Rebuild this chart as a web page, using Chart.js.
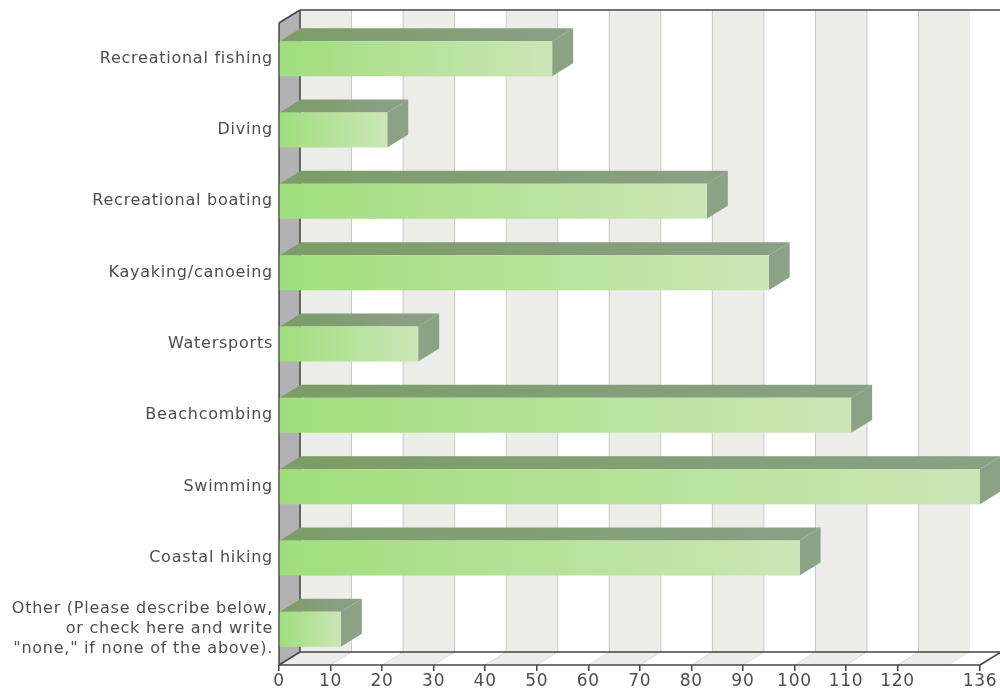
<!DOCTYPE html>
<html>
<head>
<meta charset="utf-8">
<style>
  html, body { margin: 0; background: #fff; }
  canvas { display: block; }
</style>
<script src="https://cdn.jsdelivr.net/npm/chart.js@4"></script>
</head>
<body>
<canvas id="barChart" width="1000" height="691"></canvas>
<script>
const categories = [
  'Recreational fishing',
  'Diving',
  'Recreational boating',
  'Kayaking/canoeing',
  'Watersports',
  'Beachcombing',
  'Swimming',
  'Coastal hiking',
  ['Other (Please describe below,', 'or check here and write', '"none," if none of the above).']
];
const responses = [53, 21, 83, 95, 27, 111, 136, 101, 12];
const tickValues = [0, 10, 20, 30, 40, 50, 60, 70, 80, 90, 100, 110, 120, 136];
const stripeStarts = [0, 20, 40, 60, 80, 100, 120];
const stripeWidth = 10;
const gridValues = [0, 10, 20, 30, 40, 50, 60, 70, 80, 90, 100, 110, 120];

const depthX = 21;
const depthY = 13;
const textColor = '#4d4d4d';
const lineColor = '#444';

function poly(ctx, pts, fill) {
  ctx.beginPath();
  pts.forEach((p, i) => i ? ctx.lineTo(p[0], p[1]) : ctx.moveTo(p[0], p[1]));
  ctx.closePath();
  ctx.fillStyle = fill;
  ctx.fill();
}

function segment(ctx, x1, y1, x2, y2, color, width) {
  ctx.beginPath();
  ctx.moveTo(x1, y1);
  ctx.lineTo(x2, y2);
  ctx.strokeStyle = color;
  ctx.lineWidth = width;
  ctx.stroke();
}

// back wall, side wall, floor and the top/side faces of the bars
const box3d = {
  id: 'box3d',
  beforeDraw(chart) {
    chart.ctx.letterSpacing = '0.75px';
  },
  beforeDatasetsDraw(chart) {
    const ctx = chart.ctx;
    const area = chart.chartArea;
    const x = chart.scales.x;
    const top = area.top, bottom = area.bottom, left = area.left, right = area.right;
    ctx.save();

    stripeStarts.forEach(v => {
      const a = x.getPixelForValue(v);
      const b = x.getPixelForValue(v + stripeWidth);
      poly(ctx, [[a + depthX, top - depthY], [b + depthX, top - depthY], [b + depthX, bottom - depthY], [a + depthX, bottom - depthY]], '#ecece8');
      poly(ctx, [[a, bottom], [b, bottom], [b + depthX, bottom - depthY], [a + depthX, bottom - depthY]], '#ecece8');
    });
    gridValues.forEach(v => {
      const a = x.getPixelForValue(v);
      segment(ctx, a + depthX, top - depthY, a + depthX, bottom - depthY, '#c8c8c8', 1);
      segment(ctx, a, bottom, a + depthX, bottom - depthY, '#dcdcdc', 1);
    });

    poly(ctx, [[left, top], [left + depthX, top - depthY], [left + depthX, bottom - depthY], [left, bottom]], '#b2b2b4');
    segment(ctx, left + depthX, top - depthY, right + depthX, top - depthY, lineColor, 1.5);
    segment(ctx, left + depthX, top - depthY, left + depthX, bottom - depthY, lineColor, 1.5);
    segment(ctx, left, top, left + depthX, top - depthY, lineColor, 1.5);
    segment(ctx, left, top, left, bottom, lineColor, 1.5);
    segment(ctx, left + depthX, bottom - depthY, right + depthX, bottom - depthY, lineColor, 1.5);
    segment(ctx, left, bottom, left + depthX, bottom - depthY, lineColor, 1.5);
    segment(ctx, right, bottom, right + depthX, bottom - depthY, lineColor, 1.5);
    segment(ctx, left, bottom, right, bottom, lineColor, 1.5);

    chart.getDatasetMeta(0).data.forEach(bar => {
      const x0 = bar.base, x1 = bar.x;
      const y0 = bar.y - bar.height / 2, y1 = bar.y + bar.height / 2;
      const g = ctx.createLinearGradient(x0, 0, x1, 0);
      g.addColorStop(0, '#7b9d66');
      g.addColorStop(1, '#8aa084');
      poly(ctx, [[x0, y0], [x1, y0], [x1 + depthX, y0 - depthY], [x0 + depthX, y0 - depthY]], g);
      poly(ctx, [[x1, y0], [x1 + depthX, y0 - depthY], [x1 + depthX, y1 - depthY], [x1, y1]], '#8ba285');
    });
    ctx.restore();
  }
};

new Chart(document.getElementById('barChart'), {
  type: 'bar',
  plugins: [box3d],
  data: {
    labels: categories,
    datasets: [{
      data: responses,
      categoryPercentage: 1,
      barPercentage: 0.49,
      borderWidth: 0,
      backgroundColor(c) {
        const scale = c.chart.scales.x;
        const start = scale ? scale.getPixelForValue(0) : NaN;
        const end = scale ? scale.getPixelForValue(c.raw) : NaN;
        if (!Number.isFinite(start) || !Number.isFinite(end)) return '#b5e09a';
        const g = c.chart.ctx.createLinearGradient(start, 0, end, 0);
        g.addColorStop(0, '#a0de7c');
        g.addColorStop(1, '#cbe6b6');
        return g;
      }
    }]
  },
  options: {
    indexAxis: 'y',
    responsive: false,
    animation: false,
    layout: { padding: { top: 23, right: 20, bottom: 0, left: 0 } },
    plugins: { legend: { display: false }, tooltip: { enabled: false } },
    scales: {
      x: {
        type: 'linear',
        min: 0,
        max: 136,
        afterBuildTicks(axis) { axis.ticks = tickValues.map(v => ({ value: v })); },
        afterFit(axis) { axis.height = 26; axis.paddingLeft = 0; axis.paddingRight = 0; },
        border: { display: false },
        grid: { drawOnChartArea: false, drawTicks: true, tickLength: 6, color: lineColor, lineWidth: 1.5 },
        ticks: {
          autoSkip: false,
          maxRotation: 0,
          padding: 0,
          color: textColor,
          font: { family: '"DejaVu Sans"', size: 17 }
        }
      },
      y: {
        afterFit(axis) { axis.width = 279; axis.paddingTop = 0; axis.paddingBottom = 0; },
        border: { display: false },
        grid: { display: false, drawTicks: false },
        ticks: {
          autoSkip: false,
          padding: 6,
          color: textColor,
          font: { family: '"DejaVu Sans"', size: 16, lineHeight: 1.25 }
        }
      }
    }
  }
});
</script>
</body>
</html>
